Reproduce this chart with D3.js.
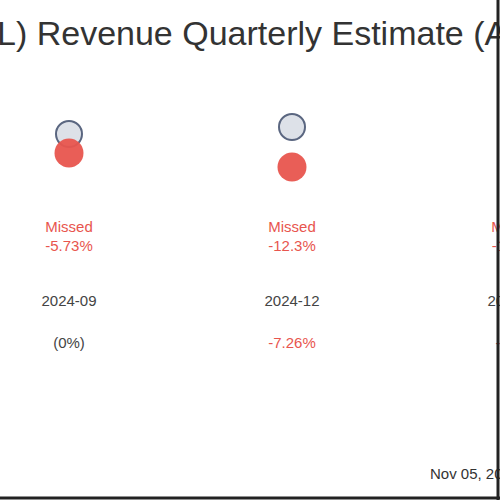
<!DOCTYPE html>
<html><head><meta charset="utf-8">
<script src="https://cdn.jsdelivr.net/npm/d3@7"></script>
<style>body{margin:0;background:#fff}svg{display:block;font-family:"Liberation Sans",Arial,sans-serif}</style>
</head><body>
<svg id="c" width="500" height="500"></svg>
<script>
var quarters = ['2024-09', '2024-12', '2025-03'];
var estimates = [106, 108.2, 110];
var actuals = [100, 95.6, 97];
var surprises = ['-5.73%', '-12.3%', '-11.8%'];
var growth = ['(0%)', '-7.26%', '-8.1%'];

var svg = d3.select('#c');
var red = '#e8554e';

var x = d3.scalePoint().domain(quarters).range([69, 515]);
var y = d3.scaleLinear().domain([100, 110]).range([153, 121.3]);

svg.append('text').attr('x', -3).attr('y', 45)
  .attr('font-size', 34).attr('fill', '#333')
  .text('L) Revenue Quarterly Estimate (Actual)');

var g = svg.selectAll('g.q').data(quarters).enter().append('g').attr('class', 'q');

g.append('circle')
  .attr('cx', function(d) { return x(d); })
  .attr('cy', function(d, i) { return y(estimates[i]); })
  .attr('r', 13).attr('fill', '#dde1e8').attr('stroke', '#5a6680').attr('stroke-width', 2);

g.append('circle')
  .attr('cx', function(d) { return x(d); })
  .attr('cy', function(d, i) { return y(actuals[i]); })
  .attr('r', 14.5).attr('fill', red).attr('fill-opacity', 0.95);

var label = g.append('text').attr('text-anchor', 'middle').attr('font-size', 15).attr('fill', red);
label.append('tspan').attr('x', function(d) { return x(d); }).attr('y', 232).text('Missed');
label.append('tspan').attr('x', function(d) { return x(d); }).attr('y', 251)
  .text(function(d, i) { return surprises[i]; });

g.append('text').attr('text-anchor', 'middle').attr('font-size', 15).attr('fill', '#444')
  .attr('x', function(d) { return x(d); }).attr('y', 306).text(function(d) { return d; });

g.append('text').attr('text-anchor', 'middle').attr('font-size', 15)
  .attr('fill', function(d, i) { return growth[i].charAt(0) === '-' ? red : '#444'; })
  .attr('x', function(d) { return x(d); }).attr('y', 348)
  .text(function(d, i) { return growth[i]; });

svg.append('text').attr('x', 430).attr('y', 479).attr('font-size', 15).attr('fill', '#333')
  .text('Nov 05, 2025');

svg.append('line').attr('x1', 498).attr('x2', 498).attr('y1', 0).attr('y2', 500)
  .attr('stroke', '#222').attr('stroke-width', 3);
svg.append('line').attr('x1', 0).attr('x2', 500).attr('y1', 498).attr('y2', 498)
  .attr('stroke', '#222').attr('stroke-width', 3);
</script>
</body></html>
